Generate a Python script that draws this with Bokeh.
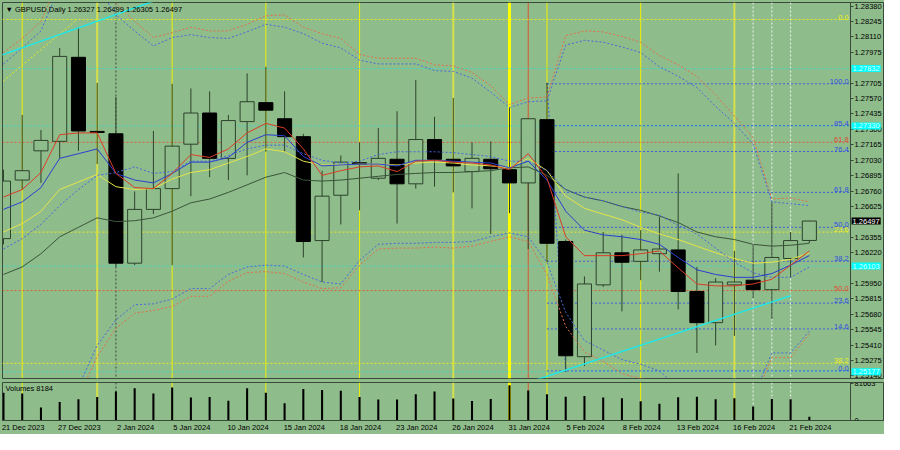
from bokeh.plotting import figure
from bokeh.layouts import column
from bokeh.models import Range1d, FixedTicker, PrintfTickFormatter, Label, Span
from bokeh.embed import file_html
from bokeh.resources import INLINE

# ---------------- data ----------------
DATES = ["21 Dec 2023", "22 Dec 2023", "26 Dec 2023", "27 Dec 2023", "28 Dec 2023", "29 Dec 2023",
         "2 Jan 2024", "3 Jan 2024", "4 Jan 2024", "5 Jan 2024", "8 Jan 2024", "9 Jan 2024",
         "10 Jan 2024", "11 Jan 2024", "12 Jan 2024", "15 Jan 2024", "16 Jan 2024", "17 Jan 2024",
         "18 Jan 2024", "19 Jan 2024", "22 Jan 2024", "23 Jan 2024", "24 Jan 2024", "25 Jan 2024",
         "26 Jan 2024", "29 Jan 2024", "30 Jan 2024", "31 Jan 2024", "1 Feb 2024", "2 Feb 2024",
         "5 Feb 2024", "6 Feb 2024", "7 Feb 2024", "8 Feb 2024", "9 Feb 2024", "12 Feb 2024",
         "13 Feb 2024", "14 Feb 2024", "15 Feb 2024", "16 Feb 2024", "19 Feb 2024", "20 Feb 2024",
         "21 Feb 2024", "22 Feb 2024"]
DATE_TICKS = [0, 3, 6, 9, 12, 15, 18, 21, 24, 27, 30, 33, 36, 39, 42]

OPEN = [1.26343, 1.26856, 1.27112, 1.27195, 1.27931, 1.27282, 1.27261, 1.26128, 1.26599, 1.26781,
        1.27170, 1.27443, 1.27046, 1.27368, 1.27534, 1.27393, 1.27236, 1.26326, 1.26723, 1.27007,
        1.26872, 1.27038, 1.26823, 1.27211, 1.27038, 1.26930, 1.27038, 1.26947, 1.26831, 1.27385,
        1.26318, 1.25309, 1.25938, 1.26219, 1.26144, 1.26211, 1.26244, 1.25880, 1.25607, 1.25938,
        1.25979, 1.25896, 1.26169, 1.26327]
HIGH = [1.26947, 1.27426, 1.27294, 1.28013, 1.28195, 1.27707, 1.27583, 1.26756, 1.27286, 1.27699,
        1.27658, 1.27633, 1.27426, 1.27790, 1.27848, 1.27633, 1.27261, 1.26938, 1.27071, 1.27186,
        1.27311, 1.27459, 1.27732, 1.27410, 1.27575, 1.27186, 1.27195, 1.27492, 1.27393, 1.27707,
        1.26335, 1.26012, 1.26401, 1.26376, 1.26417, 1.26533, 1.26914, 1.26095, 1.25996, 1.26235,
        1.26285, 1.26665, 1.26401, 1.26499]
LOW = [1.26293, 1.26773, 1.26831, 1.27046, 1.27112, 1.26996, 1.26095, 1.26111, 1.26558, 1.26111,
       1.26715, 1.26881, 1.26856, 1.26897, 1.27104, 1.27104, 1.26178, 1.25963, 1.26467, 1.26591,
       1.26856, 1.26475, 1.26781, 1.26798, 1.26748, 1.26608, 1.26384, 1.26566, 1.26252, 1.26136,
       1.25177, 1.25227, 1.25921, 1.25706, 1.25979, 1.26054, 1.25723, 1.25342, 1.25408, 1.25491,
       1.25822, 1.25640, 1.26004, 1.26305]
CLOSE = [1.26847, 1.26938, 1.27203, 1.27939, 1.27286, 1.27273, 1.26128, 1.26599, 1.26781, 1.27153,
         1.27443, 1.27046, 1.27377, 1.27542, 1.27468, 1.27236, 1.26318, 1.26715, 1.27013, 1.26994,
         1.27046, 1.26823, 1.27211, 1.27038, 1.26980, 1.27046, 1.26955, 1.26831, 1.27393, 1.26302,
         1.25317, 1.25946, 1.26219, 1.26136, 1.26244, 1.26252, 1.25880, 1.25607, 1.25963, 1.25963,
         1.25896, 1.26178, 1.26326, 1.26497]
VOLUME = [61247, 59206, 28582, 40832, 46956, 51652, 63901, 70843, 59206, 72884,
          50427, 51652, 43486, 70843, 61247, 38177, 69414, 67372, 65330, 51652,
          46344, 46344, 57777, 63901, 48385, 42873, 47569, 77580, 65943, 57777,
          52469, 53693, 50427, 48998, 42261, 36748, 51039, 52469, 46956, 48998,
          30624, 47569, 46956, 8184]

MA_RED = [1.26707, 1.26773, 1.26922, 1.27253, 1.27269, 1.27269, 1.26914, 1.26790, 1.26781, 1.26914,
          1.27079, 1.27054, 1.27129, 1.27269, 1.27352, 1.27311, 1.27129, 1.26897, 1.26938, 1.26971,
          1.26980, 1.26930, 1.27021, 1.27029, 1.27013, 1.27005, 1.26988, 1.26947, 1.27087, 1.26872,
          1.26359, 1.26194, 1.26194, 1.26194, 1.26211, 1.26235, 1.26087, 1.25946, 1.25929, 1.25929,
          1.25946, 1.25987, 1.26111, 1.26235]
MA_BLUE = [1.26599, 1.26665, 1.26790, 1.27046, 1.27087, 1.27129, 1.26914, 1.26856, 1.26831, 1.26914,
           1.27013, 1.27013, 1.27054, 1.27186, 1.27253, 1.27244, 1.27062, 1.26980, 1.26988, 1.26996,
           1.26996, 1.26980, 1.27029, 1.27029, 1.27021, 1.27013, 1.27005, 1.26963, 1.27021, 1.26856,
           1.26583, 1.26417, 1.26376, 1.26359, 1.26335, 1.26293, 1.26178, 1.26070, 1.26029, 1.26004,
           1.26004, 1.26037, 1.26111, 1.26194]
MA_YELLOW = [1.26401, 1.26475, 1.26583, 1.26773, 1.26839, 1.26905, 1.26798, 1.26773, 1.26781, 1.26864,
             1.26922, 1.26947, 1.27005, 1.27062, 1.27129, 1.27104, 1.27021, 1.26988, 1.26988, 1.26996,
             1.26996, 1.26988, 1.27005, 1.27013, 1.27005, 1.26988, 1.26980, 1.26963, 1.27046, 1.26938,
             1.26715, 1.26608, 1.26558, 1.26508, 1.26442, 1.26384, 1.26335, 1.26277, 1.26219, 1.26169,
             1.26128, 1.26136, 1.26161, 1.26219]
MA_DARK = [1.26029, 1.26095, 1.26211, 1.26359, 1.26442, 1.26525, 1.26492, 1.26500, 1.26525, 1.26583,
           1.26657, 1.26690, 1.26748, 1.26814, 1.26881, 1.26922, 1.26856, 1.26847, 1.26856, 1.26872,
           1.26889, 1.26905, 1.26914, 1.26922, 1.26922, 1.26930, 1.26938, 1.26963, 1.26971, 1.26897,
           1.26773, 1.26707, 1.26674, 1.26624, 1.26591, 1.26541, 1.26484, 1.26401, 1.26359, 1.26335,
           1.26293, 1.26277, 1.26285, 1.26302]
MA_BLUE_DOT = [1.26252, 1.26343, 1.26467, 1.26632, 1.26773, 1.26897, 1.26922, 1.26971, 1.26914, 1.26930,
               1.27021, 1.27021, 1.27071, 1.27129, 1.27162, 1.27162, 1.27087, 1.27029, 1.27005, 1.27021,
               1.27079, 1.27104, 1.27104, 1.27104, 1.27096, 1.27079, 1.27062, 1.27021, 1.27021, 1.26938,
               1.26773, 1.26707, 1.26674, 1.26624, 1.26575, 1.26550, 1.26459, 1.26384, 1.26260, 1.26136,
               1.26045, 1.26004, 1.26004, 1.26095]
ENV_UP_RED = [1.27972, 1.28096, 1.28245, 1.28634, 1.28716, 1.28634, 1.28402, 1.28245, 1.28104, 1.28146,
              1.28195, 1.28162, 1.28162, 1.28220, 1.28295, 1.28303, 1.28195, 1.28138, 1.28096, 1.27956,
              1.27923, 1.27923, 1.27923, 1.27865, 1.27856, 1.27798, 1.27683, 1.27517, 1.27575, 1.27583,
              1.28121, 1.28162, 1.28154, 1.28113, 1.28063, 1.27947, 1.27865, 1.27765, 1.27600, 1.27418,
              1.27228, 1.26690, 1.26699, 1.26665]
ENV_UP_BLUE = [1.27873, 1.28013, 1.28162, 1.28551, 1.28634, 1.28551, 1.28303, 1.28162, 1.28030, 1.28104,
               1.28129, 1.28104, 1.28096, 1.28154, 1.28220, 1.28195, 1.28138, 1.28055, 1.28013, 1.27906,
               1.27873, 1.27873, 1.27873, 1.27815, 1.27807, 1.27749, 1.27625, 1.27492, 1.27542, 1.27550,
               1.28038, 1.28080, 1.28063, 1.28022, 1.27972, 1.27848, 1.27765, 1.27666, 1.27501, 1.27352,
               1.27170, 1.26665, 1.26649, 1.26632]
ENV_LO_BLUE = [1.24623, 1.24540, 1.24540, 1.24705, 1.25045, 1.25408, 1.25632, 1.25764, 1.25772, 1.25814,
               1.25905, 1.25905, 1.26029, 1.26095, 1.26111, 1.26103, 1.26029, 1.25963, 1.25946, 1.26153,
               1.26293, 1.26302, 1.26302, 1.26310, 1.26310, 1.26318, 1.26359, 1.26393, 1.26359, 1.26136,
               1.25698, 1.25450, 1.25367, 1.25284, 1.25243, 1.25185, 1.25036, 1.24871, 1.24788, 1.24788,
               1.24954, 1.25342, 1.25342, 1.25532]
ENV_LO_RED = [1.24457, 1.24457, 1.24457, 1.24623, 1.24954, 1.25309, 1.25557, 1.25690, 1.25714, 1.25748,
              1.25838, 1.25838, 1.25971, 1.26045, 1.26054, 1.26037, 1.25963, 1.25905, 1.25913, 1.26111,
              1.26252, 1.26260, 1.26260, 1.26269, 1.26260, 1.26277, 1.26318, 1.26359, 1.26318, 1.26029,
              1.25574, 1.25351, 1.25268, 1.25160, 1.25119, 1.25078, 1.24954, 1.24788, 1.24788, 1.24788,
              1.24912, 1.25301, 1.25301, 1.25508]

FIB_BLUE_LEVELS = ["100.0", "85.4", "76.4", "61.8", "50.0", "38.2", "23.6", "14.6", "0.0"]
FIB_BLUE_PRICES = [1.27699, 1.27332, 1.27106, 1.26748, 1.26442, 1.26145, 1.25778, 1.25552, 1.25185]
FIB_BLUE_START = 29
FIB_BLUE_DIAG_X = [29, 30]
FIB_BLUE_DIAG_Y = [1.27707, 1.25177]
FIB_RED_LEVELS = ["61.8", "50.0"]
FIB_RED_PRICES = [1.27186, 1.25888]
FIB_YELLOW_LEVELS = ["0.0", "23.6", "38.2"]
FIB_YELLOW_PRICES = [1.28262, 1.26400, 1.25251]
FIB_YELLOW_DIAG_X = [-1, 3.93]
FIB_YELLOW_DIAG_Y = [1.27588, 1.28262]
CYAN_PRICES = [1.27832, 1.27330, 1.26103, 1.25177]
TREND_A_X = [-1, 9]
TREND_A_Y = [1.27898, 1.28480]
TREND_B_X = [28, 42]
TREND_B_Y = [1.25083, 1.25843]

YELLOW_VLINES = [1, 5, 9, 14, 19, 24, 27, 29, 34, 39]
RED_VLINES = [28]
WHITE_VLINES = [40, 41, 42]
SEPARATOR_VLINES = [6]

PRICE_TICKS = [1.28380, 1.28245, 1.28110, 1.27975, 1.27705, 1.27570, 1.27435, 1.27300,
               1.27165, 1.27030, 1.26895, 1.26760, 1.26625, 1.26355, 1.26220,
               1.25950, 1.25815, 1.25680, 1.25545, 1.25410, 1.25275, 1.25140]
VOL_TICKS = [0, 81663]
LAST_PRICE = 1.26497
HEADER = "\u25bc GBPUSD,Daily  1.26327 1.26499 1.26305 1.26497"
VOL_HEADER = "Volumes 8184"

# ---------------- style / layout ----------------
BG = "#8fbc8b"
FONT = "Liberation Sans"
FS = "7.5px"
WICK = "#2c432c"
FRAME = "#3a4a3a"
X0, X1 = -0.052, 47.01      # full width of the drawing area (bars)
XA = 45.2                   # where the price scale sits
Y0, Y1 = 1.25118, 1.28411
V1 = 83700
FW, FH, VH = 882, 376, 38
DATE_SHIFT = 1.05           # MT4 writes dates starting at the bar

idx = list(range(len(OPEN)))

p = figure(frame_width=FW, frame_height=FH, x_range=Range1d(X0, X1), y_range=Range1d(Y0, Y1),
           x_axis_location=None, y_axis_location="right", output_backend="svg",
           toolbar_location=None, min_border_left=2, min_border_top=2, min_border_bottom=2,
           min_border_right=0, background_fill_color=BG, border_fill_color=BG,
           outline_line_color=FRAME)
p.grid.visible = False
ax = p.yaxis[0]
ax.ticker = FixedTicker(ticks=PRICE_TICKS)
ax.formatter = PrintfTickFormatter(format="%.5f")
ax.fixed_location = XA

vol = figure(frame_width=FW, frame_height=VH, x_range=p.x_range, y_range=Range1d(0, V1),
             y_axis_location="right", output_backend="svg", toolbar_location=None,
             min_border_left=2, min_border_top=2, min_border_bottom=0, min_border_right=0,
             background_fill_color=BG, border_fill_color=BG, outline_line_color=FRAME)
vol.grid.visible = False
vax = vol.yaxis[0]
vax.ticker = FixedTicker(ticks=VOL_TICKS)
vax.formatter = PrintfTickFormatter(format="%d")
vax.fixed_location = XA
xax = vol.xaxis[0]
xax.ticker = FixedTicker(ticks=[t + DATE_SHIFT for t in DATE_TICKS])
xax.major_label_overrides = {t + DATE_SHIFT: DATES[t] for t in DATE_TICKS}

for a in (ax, vax, xax):
    a.axis_line_color = FRAME
    a.major_tick_line_color = FRAME
    a.major_tick_out = 3
    a.major_tick_in = 0
    a.minor_tick_line_color = None
    a.major_label_standoff = 1
    a.major_label_text_font = FONT
    a.major_label_text_font_size = FS
    a.major_label_text_color = "black"
xax.major_tick_line_color = None
xax.major_tick_out = 0
xax.major_label_standoff = 2

# vertical lines in both panels (behind candles)
for fig in (p, vol):
    for b in YELLOW_VLINES:
        w, col = 1, "#f0f000"
        if b == 27:
            w, col = 3, "#ffff00"
        elif b in (24, 39, 5):
            w, col = 2, "#d6e04a"
        fig.add_layout(Span(location=b, dimension="height", line_color=col, line_width=w,
                            level="underlay"))
    for b in RED_VLINES:
        fig.add_layout(Span(location=b, dimension="height", line_color="#d9542e", line_width=1,
                            level="underlay"))
    for b in WHITE_VLINES:
        fig.add_layout(Span(location=b, dimension="height", line_color="#eef4ee", line_width=1,
                            line_dash="2 2", level="underlay"))
    for b in SEPARATOR_VLINES:
        fig.add_layout(Span(location=b, dimension="height", line_color=FRAME, line_width=1,
                            line_dash="2 2", level="underlay"))


def hlines(prices, start, color):
    n = len(prices)
    p.segment(x0=[start] * n, x1=[XA] * n, y0=prices, y1=prices, line_color=color,
              line_dash="2 2", line_width=1)


hlines(FIB_YELLOW_PRICES, X0, "#e8e820")
hlines(FIB_RED_PRICES, X0, "#d9603c")
hlines(CYAN_PRICES, X0, "#3fd6c8")
hlines(FIB_BLUE_PRICES, FIB_BLUE_START, "#3f5fd8")
p.line(FIB_BLUE_DIAG_X, FIB_BLUE_DIAG_Y, line_color="#3f5fd8", line_dash="2 2")
p.line(FIB_YELLOW_DIAG_X, FIB_YELLOW_DIAG_Y, line_color="#e8e820", line_dash="2 2")

# candles
p.segment(x0=idx, x1=idx, y0=LOW, y1=HIGH, line_color=WICK, line_width=1)
bull = [i for i in idx if CLOSE[i] >= OPEN[i]]
bear = [i for i in idx if CLOSE[i] < OPEN[i]]
p.vbar(x=bull, width=0.75, top=[CLOSE[i] for i in bull], bottom=[OPEN[i] for i in bull],
       fill_color=BG, line_color=WICK, line_width=1)
p.vbar(x=bear, width=0.75, top=[OPEN[i] for i in bear], bottom=[CLOSE[i] for i in bear],
       fill_color="black", line_color="black", line_width=1)

# indicators
p.line(idx, MA_DARK, line_color="#3b553b", line_width=1)
p.line(idx, MA_YELLOW, line_color="#e4e44a", line_width=1)
p.line(idx, MA_BLUE_DOT, line_color="#4466dd", line_width=1, line_dash="2 2")
p.line(idx, MA_BLUE, line_color="#2a3fd0", line_width=1)
p.line(idx, MA_RED, line_color="#dc3c24", line_width=1)
p.line(idx, ENV_UP_RED, line_color="#e0704c", line_dash="2 2")
p.line(idx, ENV_UP_BLUE, line_color="#4a6ad8", line_dash="2 2")
p.line(idx, ENV_LO_RED, line_color="#e0704c", line_dash="2 2")
p.line(idx, ENV_LO_BLUE, line_color="#4a6ad8", line_dash="2 2")
p.line(TREND_A_X, TREND_A_Y, line_color="#20e8e8", line_width=1.5)
p.line(TREND_B_X, TREND_B_Y, line_color="#20e8e8", line_width=1.5)


def flabel(y, text, color):
    p.add_layout(Label(x=XA, y=y, x_offset=-2, y_offset=0, text=text, text_color=color,
                       text_align="right", text_baseline="bottom", text_font=FONT,
                       text_font_size=FS))


for lv, pr in zip(FIB_BLUE_LEVELS, FIB_BLUE_PRICES):
    flabel(pr, lv, "#2f4fe0")
for lv, pr in zip(FIB_RED_LEVELS, FIB_RED_PRICES):
    flabel(pr, lv, "#e04a30")
for lv, pr in zip(FIB_YELLOW_LEVELS, FIB_YELLOW_PRICES):
    flabel(pr, lv, "#f0f020")

# price boxes on the scale
box_kw = {}
if "padding" in Label.properties():
    box_kw["padding"] = 1


def box(pr, fill, tcol):
    p.add_layout(Label(x=XA, y=pr, x_offset=1, text="%.5f" % pr, text_color=tcol,
                       background_fill_color=fill, text_baseline="middle", text_font=FONT,
                       text_font_size=FS, **box_kw))


for pr in CYAN_PRICES:
    box(pr, "#00ffff", "#d8ffff")
box(LAST_PRICE, "black", "white")

p.add_layout(Label(x=X0, y=Y1, x_offset=3, y_offset=-2, text=HEADER, text_color="black",
                   text_baseline="top", text_font=FONT, text_font_size=FS))

# volume
vol.vbar(x=idx, top=VOLUME, width=0.11, fill_color="black", line_color=None)
vol.add_layout(Label(x=X0, y=V1, x_offset=3, y_offset=-1, text=VOL_HEADER, text_color="black",
                     text_baseline="top", text_font=FONT, text_font_size=FS))

layout = column(p, vol, spacing=0, background=BG)
open("out.html", "w").write(file_html(layout, INLINE))
